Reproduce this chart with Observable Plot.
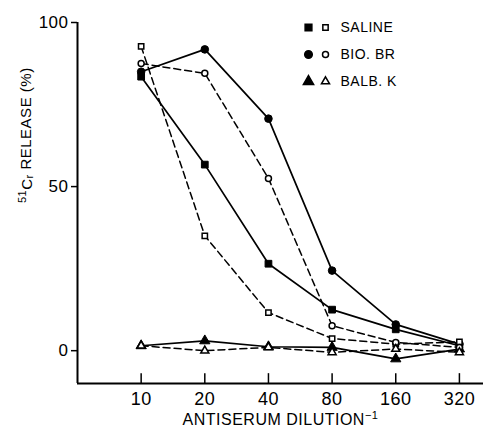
<!DOCTYPE html>
<html><head><meta charset="utf-8">
<script src="https://cdn.jsdelivr.net/npm/d3@7"></script>
<script src="https://cdn.jsdelivr.net/npm/@observablehq/plot@0.6"></script>
<style>
body{margin:0;background:#fff;font-family:"Liberation Sans",Arial,sans-serif}
#wrap{position:relative;width:483px;height:428px}
</style></head><body><div id="wrap"></div>
<script>
// Antiserum dilution (reciprocal)
const dilutions = [10, 20, 40, 80, 160, 320];
// 51Cr release (%), filled symbols (solid lines) and open symbols (dashed lines)
const salineFilled = [83.5, 56.7, 26.5, 12.5, 6.5, 1.5];
const salineOpen   = [92.7, 35.0, 11.6, 3.7, 2.0, 2.7];
const bioFilled    = [85.0, 91.8, 70.7, 24.4, 8.0, 2.0];
const bioOpen      = [87.5, 84.5, 52.5, 7.6, 2.5, 1.0];
const balbFilled   = [1.5, 3.0, 1.2, 1.0, -2.5, 0.5];
const balbOpen     = [1.5, 0.0, 1.0, -0.5, 0.5, -0.5];
const groups = ["SALINE", "BIO. BR", "BALB. K"];
const symbolsFor = ["square", "circle", "triangle"];
const yTicks = [0, 50, 100];
const yLabel = "51Cr RELEASE (%)";
const xLabel = "ANTISERUM DILUTION";

const series = [
  {group: "SALINE", kind: "filled", values: salineFilled},
  {group: "SALINE", kind: "open", values: salineOpen},
  {group: "BIO. BR", kind: "filled", values: bioFilled},
  {group: "BIO. BR", kind: "open", values: bioOpen},
  {group: "BALB. K", kind: "filled", values: balbFilled},
  {group: "BALB. K", kind: "open", values: balbOpen}
];
const rows = series.flatMap(s => s.values.map((v, i) => ({
  id: s.group + "-" + s.kind, group: s.group, kind: s.kind, dilution: dilutions[i], value: v
})));

const font = "Liberation Sans, Arial, sans-serif";
const legendMarks = groups.flatMap((g, i) => [
  Plot.dot([g], {frameAnchor: "top-left", dx: 231, dy: 5 + i * 27, symbol: d => d, fill: "black", stroke: "black", r: 3.8}),
  Plot.dot([g], {frameAnchor: "top-left", dx: 248, dy: 5 + i * 27, symbol: d => d, fill: "white", stroke: "black", strokeWidth: 1.5, r: 3}),
  Plot.text([g], {frameAnchor: "top-left", dx: 263, dy: 5 + i * 27, text: d => d, textAnchor: "start", lineAnchor: "middle", fontSize: 14, fill: "black"})
]);

const chart = Plot.plot({
  width: 483, height: 428,
  marginLeft: 77, marginRight: 0, marginTop: 22, marginBottom: 45,
  x: {type: "log", base: 2, domain: [5, 416], axis: null},
  y: {domain: [-10, 100], axis: null},
  symbol: {domain: groups, range: symbolsFor},
  color: {type: "identity"},
  r: {type: "identity"},
  style: {fontFamily: font, color: "#000", background: "#fff", overflow: "visible"},
  marks: [
    Plot.ruleX([5], {y1: -10, y2: 100, strokeWidth: 2}),
    Plot.ruleY([-10], {x1: 5, x2: 416, strokeWidth: 2}),
    Plot.axisY(yTicks, {anchor: "left", tickSize: 6, tickPadding: 3, fontSize: 17, label: null, strokeWidth: 1.5}),
    Plot.axisX(dilutions, {anchor: "bottom", tickSize: 0, tickPadding: 9, fontSize: 18, label: null, tickFormat: d => String(d)}),
    Plot.ruleX(dilutions, {x: d => d, y1: -10, y2: -7, strokeWidth: 1.5}),
    Plot.text([yLabel], {frameAnchor: "left", rotate: -90, dx: -52, lineAnchor: "middle", fontSize: 15, text: d => d, fill: "black"}),
    Plot.text([xLabel], {frameAnchor: "bottom", dy: 36, lineAnchor: "middle", fontSize: 16, text: d => d, fill: "black"}),
    Plot.line(rows.filter(d => d.kind === "filled"), {x: "dilution", y: "value", z: "id", stroke: "black", strokeWidth: 1.7}),
    Plot.line(rows.filter(d => d.kind === "open"), {x: "dilution", y: "value", z: "id", stroke: "black", strokeWidth: 1.5, strokeDasharray: "7,4"}),
    Plot.dot(rows, {x: "dilution", y: "value", symbol: "group",
      fill: d => d.kind === "filled" ? "black" : "white", stroke: "black",
      strokeWidth: d => d.kind === "filled" ? 1 : 1.5,
      r: d => d.kind === "filled" ? 3.8 : 3}),
    ...legendMarks
  ]
});
document.getElementById("wrap").appendChild(chart);
const svg = d3.select(chart);
svg.selectAll("text").style("letter-spacing", "0.5px");
// superscripts / subscripts in axis titles
svg.selectAll("text").filter(function() { return this.textContent === yLabel; })
  .each(function() {
    const t = d3.select(this); t.text("");
    t.append("tspan").attr("font-size", 11).attr("dy", "-0.35em").text("51");
    t.append("tspan").attr("dy", "0.35em").text("C");
    t.append("tspan").attr("font-size", 11).attr("dy", "0.15em").text("r");
    t.append("tspan").attr("dy", "-0.15em").text(" RELEASE (%)");
  });
svg.selectAll("text").filter(function() { return this.textContent === xLabel; })
  .each(function() {
    const t = d3.select(this); t.text("");
    t.append("tspan").text(xLabel);
    t.append("tspan").attr("font-size", 11).attr("dy", "-0.55em").text("\u22121");
  });
</script></body></html>
